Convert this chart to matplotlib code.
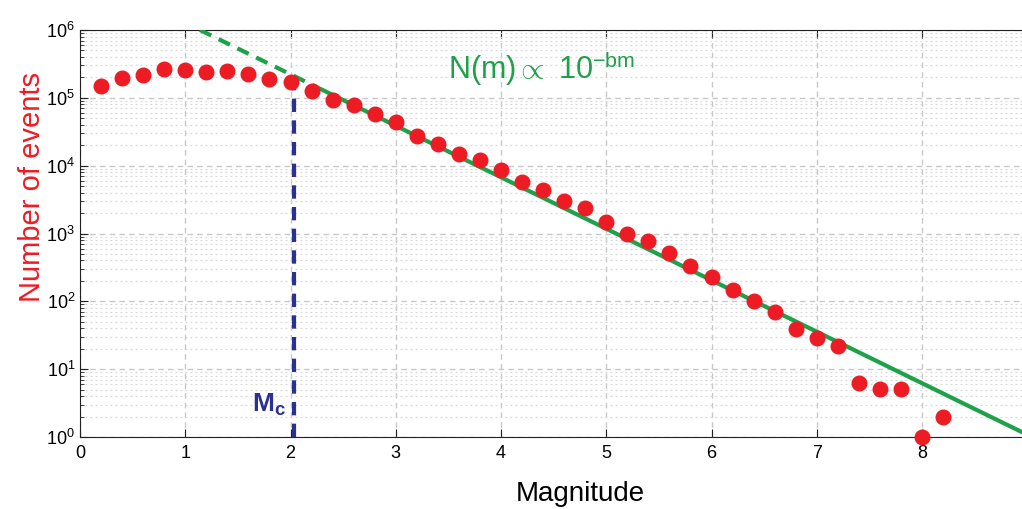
import numpy as np
import matplotlib
matplotlib.use("Agg")
from matplotlib import pyplot as plt
from matplotlib.ticker import LogLocator, NullFormatter

plt.rcParams['font.family'] = ['Liberation Sans', 'DejaVu Sans']
plt.rcParams['mathtext.fontset'] = 'custom'
plt.rcParams['mathtext.rm'] = 'Liberation Sans'
plt.rcParams['mathtext.it'] = 'Liberation Sans:italic'
plt.rcParams['mathtext.bf'] = 'Liberation Sans:bold'

# magnitude bins and event counts
magnitude = [0.2, 0.4, 0.6, 0.8, 1.0, 1.2, 1.4, 1.6, 1.8, 2.0,
             2.2, 2.4, 2.6, 2.8, 3.0, 3.2, 3.4, 3.6, 3.8, 4.0,
             4.2, 4.4, 4.6, 4.8, 5.0, 5.2, 5.4, 5.6, 5.8, 6.0,
             6.2, 6.4, 6.6, 6.8, 7.0, 7.2, 7.4, 7.6, 7.8, 8.0, 8.2]
events = [1.5e5, 1.95e5, 2.2e5, 2.7e5, 2.6e5, 2.4e5, 2.5e5, 2.25e5, 1.9e5, 1.7e5,
          1.26e5, 9.3e4, 7.8e4, 5.8e4, 4.4e4, 2.75e4, 2.1e4, 1.5e4, 1.2e4, 8.7e3,
          5.8e3, 4.4e3, 3.0e3, 2.4e3, 1.5e3, 1.0e3, 780, 515, 330, 230,
          148, 100, 69, 39, 29, 22, 6.3, 5.1, 5.1, 1.0, 2.0]

# Gutenberg-Richter fit: log10 N = a - b*m
a_val = 6.865
b_val = 0.759
mc = 2.03
m_fit_dash = [1.14, 2.25]
m_fit_solid = [2.25, 8.95]

red = '#ed1c24'
green = '#1fa04a'
navy = '#2b3190'

fig = plt.figure(figsize=(10.22, 5.09), dpi=100)
ax = fig.add_axes([80 / 1022, 1 - 437 / 509, 1 - 80 / 1022, (437 - 30) / 509])

ax.set_yscale('log')
ax.set_xlim(0, 8.95)
ax.set_ylim(1, 1e6)

ax.grid(True, which='major', color='#c8c8c8', linestyle=(0, (4, 3)), linewidth=1.0)
ax.grid(True, which='minor', axis='y', color='#d8d8d8', linestyle=(0, (1.5, 2.5)), linewidth=0.9)

md = np.array(m_fit_dash)
ms = np.array(m_fit_solid)
ax.plot(md, 10 ** (a_val - b_val * md), color=green, lw=3, ls=(0, (3, 2)), zorder=3)
ax.plot(ms, 10 ** (a_val - b_val * ms), color=green, lw=3, zorder=3, clip_on=False)

ax.plot([mc, mc], [1, 1.7e5], color=navy, lw=3, ls=(0, (3.2, 2)), zorder=3)
ax.text(mc - 0.07, 3.0, r'M$_{\mathbf{c}}$', color=navy, fontsize=19, fontweight='bold',
        ha='right', va='center')

ax.plot(magnitude, events, 'o', color=red, markersize=10.5, zorder=4, clip_on=False)

ax.text(3.5, 1.4e5, r'N(m)$\propto$ 10$^{\mathrm{-bm}}$', color=green, fontsize=22,
        ha='left', va='bottom')

ax.set_xticks(range(0, 9))
ax.yaxis.set_major_locator(LogLocator(base=10, numticks=10))
ax.yaxis.set_minor_locator(LogLocator(base=10, subs=np.arange(2, 10), numticks=100))
ax.yaxis.set_minor_formatter(NullFormatter())
ax.tick_params(which='both', direction='in', top=True, right=False, labelsize=13, color='#222222')
ax.tick_params(which='major', length=6)
ax.tick_params(which='minor', length=3)
ax.tick_params(axis='x', pad=6)

for side in ['left', 'bottom', 'top']:
    ax.spines[side].set_color('#222222')
ax.spines['right'].set_visible(False)

ax.set_xlabel('Magnitude', fontsize=20)
ax.xaxis.set_label_coords((580 - 80) / 942, (437 - 481) / 407)
ax.set_ylabel('Number of events', fontsize=21, color=red)
ax.yaxis.set_label_coords((46 - 80) / 942, (437 - 187) / 407)

fig.savefig('out.png', dpi=100)
